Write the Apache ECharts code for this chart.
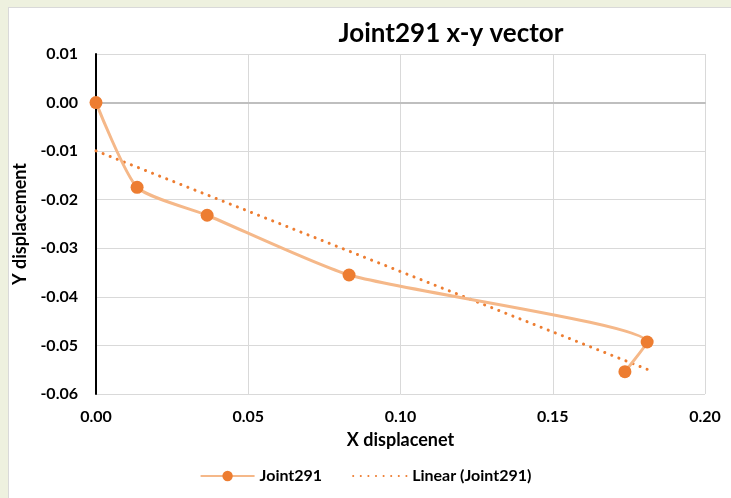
<!DOCTYPE html>
<html>
<head>
<meta charset="utf-8">
<script src="https://cdn.jsdelivr.net/npm/echarts@6/dist/echarts.min.js"></script>
<style>
html,body{margin:0;padding:0;background:#eef1df;}
#frame{position:absolute;left:8px;top:7px;width:740px;height:500px;background:#fff;border:1px solid #d9d9d9;}
#chart{position:absolute;left:0;top:0;width:731px;height:498px;}
</style>
</head>
<body>
<div id="frame"></div>
<div id="chart"></div>
<script>
const xValues = [0, 0.0135, 0.0365, 0.0831, 0.181, 0.1737];
const yValues = [0, -0.01745, -0.0232, -0.0355, -0.0493, -0.0554];
const seriesName = 'Joint291';
const trendName = 'Linear (Joint291)';
const titleText = 'Joint291 x-y vector';
const xAxisName = 'X displacenet';
const yAxisName = 'Y displacement';

// least-squares trendline computed from the data
const n = xValues.length;
const mx = xValues.reduce((a,b)=>a+b,0)/n;
const my = yValues.reduce((a,b)=>a+b,0)/n;
let sxy=0, sxx=0;
for(let i=0;i<n;i++){sxy+=(xValues[i]-mx)*(yValues[i]-my);sxx+=(xValues[i]-mx)**2;}
const slope = sxy/sxx, intercept = my - slope*mx;
const xMin = Math.min(...xValues), xMax = Math.max(...xValues);
const trendData = [[xMin, intercept+slope*xMin],[xMax, intercept+slope*xMax]];

const FONT = 'Lato, "Open Sans", sans-serif';
const chart = echarts.init(document.getElementById('chart'), null, {renderer:'canvas'});
chart.setOption({
  backgroundColor: 'transparent',
  animation: false,
  title: {text: titleText, left: 446, top: 16, textAlign: 'center',
    textStyle: {fontFamily: FONT, fontWeight: 'bold', fontSize: 26, color: '#000'}},
  grid: {left: 96, right: 26, top: 54, bottom: 104},
  xAxis: {type: 'value', min: 0, max: 0.2, interval: 0.05,
    name: xAxisName, nameLocation: 'middle', nameGap: 37,
    nameTextStyle: {fontFamily: FONT, fontWeight: 'bold', fontSize: 18, color: '#000'},
    axisLine: {show: true, onZero: true, lineStyle: {color: '#bfbfbf', width: 2}},
    axisTick: {show: false},
    axisLabel: {fontFamily: FONT, fontWeight: 'bold', fontSize: 16, color: '#000', margin: 15, formatter: v => v.toFixed(2)},
    splitLine: {show: true, lineStyle: {color: '#d9d9d9', width: 1}}},
  yAxis: {type: 'value', min: -0.06, max: 0.01, interval: 0.01,
    name: yAxisName, nameLocation: 'middle', nameGap: 60, nameRotate: 90,
    nameTextStyle: {fontFamily: FONT, fontWeight: 'bold', fontSize: 18, color: '#000'},
    axisLine: {show: true, onZero: false, lineStyle: {color: '#000', width: 2}},
    axisTick: {show: false},
    axisLabel: {fontFamily: FONT, fontWeight: 'bold', fontSize: 16, color: '#000', margin: 18, formatter: v => v.toFixed(2)},
    splitLine: {show: true, lineStyle: {color: '#d9d9d9', width: 1}}},
  legend: {top: 463, left: 'center', itemGap: 30, itemWidth: 54, itemHeight: 13,
    textStyle: {fontFamily: FONT, fontWeight: 'bold', fontSize: 16, color: '#000'},
    data: [seriesName, {name: trendName, itemStyle: {opacity: 0}}]},
  series: [
    {name: seriesName, type: 'line', smooth: 0.2, smoothConstraint: false,
     data: xValues.map((x,i)=>[x, yValues[i]]),
     symbol: 'circle', symbolSize: 13,
     lineStyle: {color: '#f5b889', width: 3},
     itemStyle: {color: '#ed7d31'}, z: 3},
    {name: trendName, type: 'line', data: trendData, symbol: 'none',
     lineStyle: {color: '#ed7d31', width: 3, type: [0.1, 7.5], cap: 'round'},
     itemStyle: {color: '#ed7d31'}, z: 2}
  ]
});
</script>
</body>
</html>
